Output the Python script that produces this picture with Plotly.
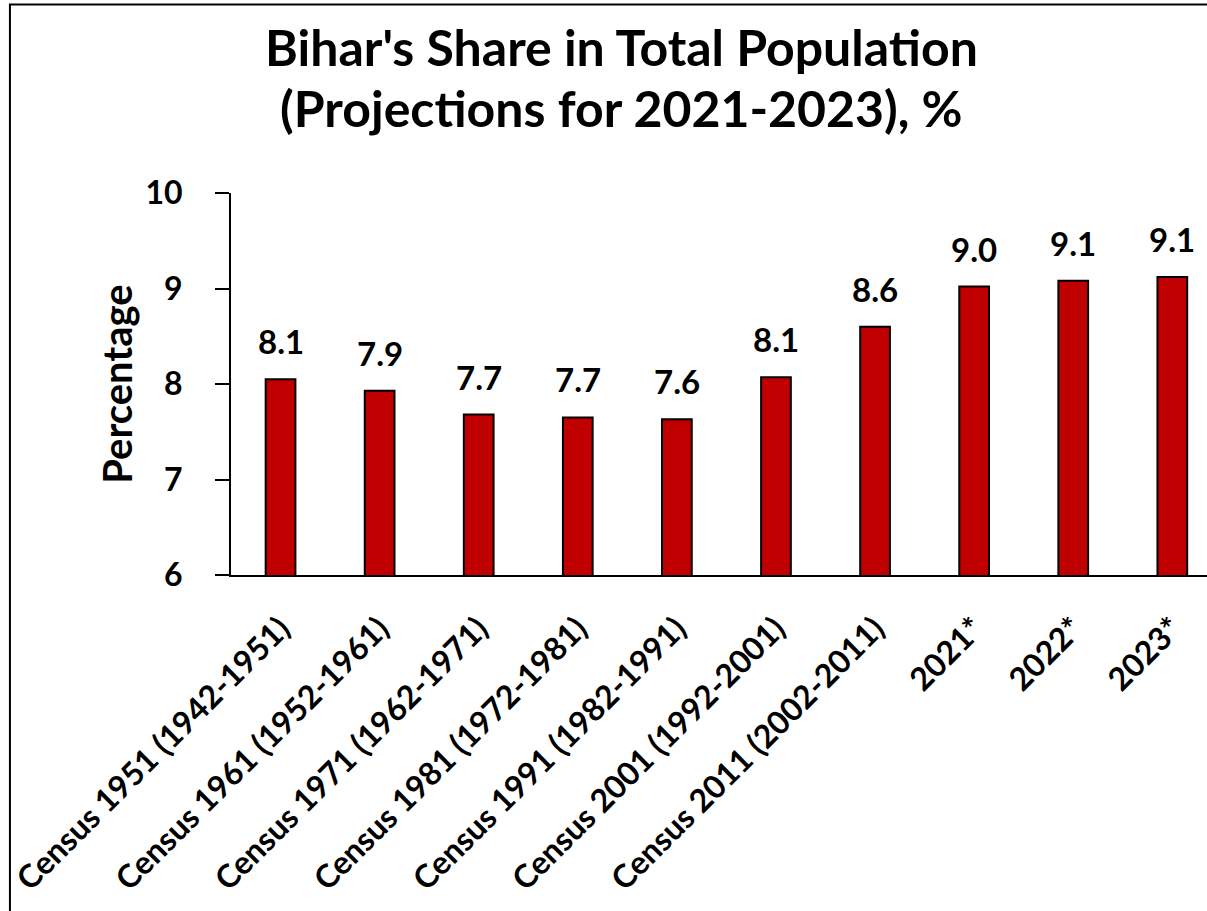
import plotly.graph_objects as go

categories = ["Census 1951 (1942-1951)", "Census 1961 (1952-1961)", "Census 1971 (1962-1971)",
              "Census 1981 (1972-1981)", "Census 1991 (1982-1991)", "Census 2001 (1992-2001)",
              "Census 2011 (2002-2011)", "2021*", "2022*", "2023*"]
share = [8.05, 7.93, 7.68, 7.65, 7.63, 8.07, 8.6, 9.02, 9.08, 9.12]
labels = ["8.1", "7.9", "7.7", "7.7", "7.6", "8.1", "8.6", "9.0", "9.1", "9.1"]
y_ticks = [6, 7, 8, 9, 10]

FONT = "Lato"
fig = go.Figure()
fig.add_trace(go.Bar(
    x=categories, y=share, width=0.3,
    marker=dict(color="#C00000", line=dict(color="black", width=2)),
    hoverinfo="x+y",
))

for c, v, t in zip(categories, share, labels):
    fig.add_annotation(x=c, y=v, text=t, showarrow=False, yanchor="bottom", yshift=16,
                       font=dict(family=FONT, size=33, color="black", weight="bold"))

# title (two lines)
fig.add_annotation(xref="paper", yref="paper", x=0.4006, y=1.382, text="<b>Bihar's Share in Total Population</b>",
                   showarrow=False, xanchor="center", yanchor="middle",
                   font=dict(family=FONT, size=50, color="black"))
fig.add_annotation(xref="paper", yref="paper", x=0.4006, y=1.2225, text="<b>(Projections for 2021-2023), %</b>",
                   showarrow=False, xanchor="center", yanchor="middle",
                   font=dict(family=FONT, size=50, color="black"))

# chart border
fig.add_shape(type="rect", xref="paper", yref="paper", x0=-0.2265, y0=-1.5, x1=1.2, y1=1.4935,
              line=dict(color="black", width=2), fillcolor="rgba(0,0,0,0)", layer="above")

fig.update_layout(
    width=1207, height=911,
    margin=dict(l=231, r=0, t=193, b=336, pad=0),
    paper_bgcolor="white", plot_bgcolor="white",
    showlegend=False,
    bargap=0.7,
    font=dict(family=FONT, color="black"),
)
fig.update_xaxes(type="category", range=[-0.5, 9.35], showline=True, linecolor="black", linewidth=2,
                 ticks="", tickangle=-45, showgrid=False, ticklabelstandoff=20,
                 tickfont=dict(family=FONT, size=32, color="black", weight="bold"))
fig.update_yaxes(range=[6, 10], tickvals=y_ticks, showline=True, linecolor="black", linewidth=2,
                 ticks="outside", ticklen=14, tickwidth=2, tickcolor="black", showgrid=False,
                 zeroline=False, ticklabelstandoff=26,
                 tickfont=dict(family=FONT, size=32, color="black", weight="bold"),
                 title=dict(text="<b>Percentage</b>", standoff=0,
                            font=dict(family=FONT, size=40, color="black")))

fig.write_html("out.html", config={"displayModeBar": False},
               post_script="document.body.style.margin='0';")
